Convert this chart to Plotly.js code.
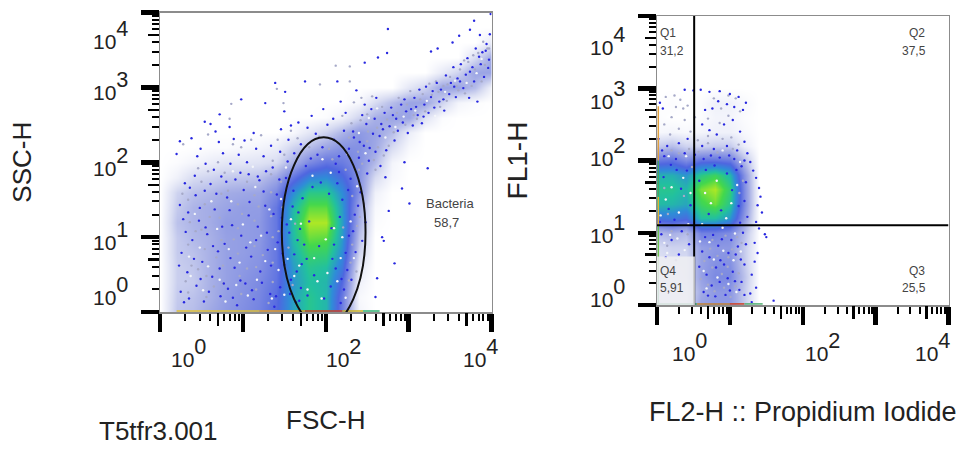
<!DOCTYPE html>
<html><head><meta charset="utf-8">
<script src="https://cdn.plot.ly/plotly-3.0.1.min.js"></script>
<style>html,body{margin:0;padding:0;background:#fff}</style></head>
<body><div id="chart" style="width:961px;height:450px"></div>
<script>
// All positions on the axes are log10 decades of the channel value.
const gridAxis = [0,.2,.4,.6,.8,1,1.2,1.4,1.6,1.8,2,2.2,2.4,2.6,2.8,3,3.2,3.4,3.6,3.8,4];
// Density estimate per grid cell (0 none .. 8 peak), rows y = 0 to 4, columns x = 0 to 4.
const leftDensity = [
[0,1.5,1.7,2.2,2.6,2.9,3.2,3.9,5.4,6.2,5.8,3.3,.3,0,0,0,0,0,0,0,0],
[0,1.4,1.6,2,2.5,2.8,3.1,3.8,5.4,6.2,5.8,3.4,.2,0,0,0,0,0,0,0,0],
[0,1.3,1.4,2,2.4,2.7,3,3.6,5.2,6,5.8,3.9,.4,0,0,0,0,0,0,0,0],
[0,1.3,1.5,2,2.4,2.6,2.8,3.5,5.3,6.2,6,4.5,.7,0,0,0,0,0,0,0,0],
[0,1.4,1.6,2,2.4,2.5,2.7,3.5,5.6,6.7,6.6,5,1.2,0,0,0,0,0,0,0,0],
[0,1.4,1.8,2,2.4,2.5,2.6,3.5,5.9,7.3,7.2,5.3,1.6,0,0,0,0,0,0,0,0],
[0,1.6,1.9,2.1,2.5,2.5,2.6,3.5,6,7.8,7.8,5.4,2,.1,0,0,0,0,0,0,0],
[0,1.4,1.9,2.1,2.3,2.5,2.5,3.5,5.8,7.2,7.2,5.3,2.2,.2,0,0,0,0,0,0,0],
[0,1.2,1.6,1.8,2.1,2.2,2.3,3,5,6.3,6.3,5,2.8,.4,0,0,0,0,0,0,0],
[0,.4,1,1.2,1.4,1.5,1.6,2.2,3.6,4.8,5,4.2,2.8,1,.2,0,0,0,0,0,0],
[0,.1,.3,.5,.7,.7,.8,1,2,3,3.6,3.4,2.8,1.8,.3,0,0,0,0,0,0],
[0,0,0,.1,.1,.2,.3,.5,1.2,1.7,2.3,2.8,2.8,2.2,1,.2,0,0,0,0,0],
[0,0,0,0,0,0,0,0,.2,.7,1.2,1.9,2.6,2.3,1.7,.5,0,0,0,0,0],
[0,0,0,0,0,0,0,0,0,0,.1,.4,1.2,2,2.3,2.3,.8,.1,0,0,0],
[0,0,0,0,0,0,0,0,0,0,0,0,.2,1,1.7,2.3,2.3,1.2,.3,.1,0],
[0,0,0,0,0,0,0,0,0,0,0,0,0,0,0,.7,1.2,2.3,2.3,1.7,.3],
[0,0,0,0,0,0,0,0,0,0,0,0,0,0,0,0,0,.6,1.2,2.3,2.3],
[0,0,0,0,0,0,0,0,0,0,0,0,0,0,0,0,0,0,0,1,2.2],
[0,0,0,0,0,0,0,0,0,0,0,0,0,0,0,0,0,0,0,0,.6],
[0,0,0,0,0,0,0,0,0,0,0,0,0,0,0,0,0,0,0,0,0],
[0,0,0,0,0,0,0,0,0,0,0,0,0,0,0,0,0,0,0,0,0]];
const rightDensity = [
[1,.8,.8,2.4,2.6,2.6,1.4,0,0],
[.8,.8,.8,2.1,2.6,2.6,1.4,0,0],
[.8,.8,1,2.4,3,3,1.6,0,0],
[.8,1,1,2.4,2.8,2.8,1.4,0,0],
[1,1.2,1.2,2.4,2.6,2.6,1.4,0,0],
[1.7,2,1.7,3.2,3.2,2.9,1.7,0,0],
[4.4,4.6,4.2,6,6,5.2,2.6,0,0],
[5.9,5.8,5.5,6.8,7.3,6.2,3,0,0],
[6.2,6.2,5.8,7.4,7.8,6.5,3,0,0],
[5.7,5.7,5.2,6.3,6.8,5.8,2.8,0,0],
[3.4,3.6,2.9,3.6,3.6,3.4,1.7,0,0],
[1.4,1.7,1.2,1.2,1.4,1.4,.5,0,0],
[.2,.3,.2,.3,.4,.4,.2,0,0],
[.1,0,0,.1,.3,.3,.1,0,0],
[0,.1,0,.1,.4,.4,.2,0,0],
[0,0,0,0,0,0,0,0,0]];
const rightGridX = [0,.2,.4,.6,.8,1,1.2,1.4,1.6];
const rightGridY = [0,.2,.4,.6,.8,1,1.2,1.4,1.6,1.8,2,2.2,2.4,2.6,2.8,3];
// Individual events read from the sparse and speckled parts of the plots.
const leftBlueDots = [[2.75,3.78],[2.74,3.46],[2.47,3.33],[2.63,3.4],[3.27,3.48],[3.35,3.52],[3.53,3.6],[3.61,3.69],[3.79,3.89],[3.74,3.77],[3.86,3.7],[3.99,3.98],[1.39,3.06],[1.51,2.94],[1.75,3.08],[2.14,3.08],[.98,2.84],[1.27,2.79],[1.5,2.68],[.72,2.64],[.54,2.54],[.61,2.51],[.84,2.47],[.67,2.41],[.24,2.28],[.38,2.32],[.2,2.11],[.45,2.08],[3.01,1.45],[2.83,.65],[2.92,1.65],[3.23,1.92],[2.95,2.0],[2.72,1.8],[2.76,1.35],[2.68,1.0],[2.7,.95],[2.62,.45],[2.6,.2],
[2.33,2.41],[2.37,2.96],[2.41,2.27],[2.44,2.63],[2.49,2.51],[2.53,2.19],[2.55,2.71],[2.59,2.58],[2.61,2.86],[2.65,2.35],[2.67,2.51],[2.71,2.66],[2.73,2.16],[2.77,2.48],[2.79,2.73],[2.83,2.29],[2.85,2.58],[2.87,2.42],[2.91,2.77],[2.93,2.53],[2.97,2.68],[2.99,2.39],[3.03,2.71],[3.05,2.49],[3.07,2.86],[3.11,2.63],[3.13,2.97],[3.16,2.52],[3.19,2.77],[3.21,3.01],[3.24,2.66],[3.27,2.87],[3.31,2.73],[3.34,3.06],[3.37,2.81],[3.39,2.97],[3.43,2.69],[3.45,3.16],[3.49,2.91],[3.51,3.06],[3.54,3.27],[3.57,2.87],[3.59,3.12],[3.63,3.31],[3.66,2.99],[3.69,3.17],[3.71,3.39],[3.73,2.86],[3.77,3.27],[3.79,3.08],[3.81,3.52],[3.83,2.81],[3.87,3.31],[3.89,3.47],[3.91,3.14],[3.94,3.58],[3.97,3.37],[3.98,3.71],[3.96,3.26],[3.42,2.84],[3.18,2.61],[3.09,2.74],[2.95,2.84],[2.81,2.63],[2.69,2.44],[2.57,2.38],[2.47,2.77],[3.62,3.08],[3.74,3.21],[3.85,3.41],[3.93,3.49],[3.55,3.01],[3.29,2.95],
[2.1,2.3],[2.16,2.08],[2.22,2.42],[2.28,2.18],[2.34,2.33],[2.4,2.06],[2.46,2.22],[2.52,2.02],[2.6,2.14],[2.66,1.95],[2.02,2.5],[1.96,2.2],[1.88,2.38],[1.78,2.46],[1.7,2.24],[1.62,2.12],[1.55,2.3],[1.45,2.14],[1.34,2.22],[1.25,2.08],[1.16,2.18],[1.05,2],[.95,2.1],[.85,1.98],[.76,2.12],[.65,1.9],[.55,1.98],[.42,1.82],[.3,1.72],[1.67,2.53],[1.83,2.62],[1.97,2.71],[2.09,2.58],[2.24,2.66],[2.18,2.81],[1.58,2.49],[1.46,2.44],[1.13,2.39],[1.02,2.29],[.89,2.31],[.71,2.27],[.49,2.18],
[.24,1.43],[.31,1.07],[.26,.79],[.33,.53],[.25,.27],[.29,.13],[.43,1.56],[.47,1.22],[.39,.96],[.51,.67],[.44,.35],[.53,.14],[.61,1.71],[.66,1.37],[.57,1.04],[.7,.81],[.63,.47],[.73,.21],[.81,1.53],[.87,1.16],[.78,.91],[.9,.59],[.82,.31],[.93,.09],[1.01,1.63],[1.07,1.29],[.98,1.02],[1.1,.74],[1.03,.38],[1.13,.17],[1.2,1.76],[1.27,1.42],[1.18,1.14],[1.3,.83],[1.21,.54],[1.33,.24],[1.38,.07],[1.41,1.57],[1.47,1.26],[1.42,.93],[1.5,.63],[1.45,.33],[1.52,1.79],[1.6,1.41],[1.56,1.06],[1.62,.77],[1.58,.43],[1.64,.13],[.23,.62],[.28,1.24],[.36,1.66],[.35,.18],[.41,.71],[.49,.44],[.48,1.39],[.55,1.13],[.59,.27],[.64,.88],[.68,1.58],[.72,.58],[.75,1.14],[.77,.38],[.84,1.36],[.85,.72],[.88,.19],[.91,1.77],[.97,.42],[1.04,.86],[1.08,1.47],[1.11,.29],[1.16,.96],[1.23,.39],[1.25,1.61],[1.29,1.06],[1.34,.62],[1.37,1.31],[1.4,.21],[1.44,1.77],[1.48,.78],[1.53,1.17],[1.57,.24],[1.61,1.62],[1.66,.96],[1.67,1.33],[1.65,.54],[1.07,1.84],[.8,1.74],[.54,1.62],[.34,1.33],[1.54,2.01],[1.36,1.93],[1.28,1.88],[1.18,1.81],[.97,1.86],[.74,1.81],
[2.2,1.5],[2.3,1.78],[2.35,1.3],[2.28,1.02],[2.36,.8],[2.26,.56],[2.22,.3],[2.18,.12],[2.42,1.6],[2.48,1.2],[2.44,.95],[2.5,1.85],[1.7,.32],[1.74,.9],[1.72,1.52],[1.76,1.95],[2.12,.58],[2.1,.9],[2.14,1.72],[2.12,1.98],[1.82,2.05],[1.9,2.1],[2.24,.79],[2.31,.43],[2.17,1.27],[2.27,1.63],[2.39,1.42],[2.33,1.08],[2.19,.44],[2.16,1.87],[1.69,1.11],[1.71,.64],[1.68,.15],[1.78,.22],[1.77,.71],[1.8,1.21],[2.06,.34],[2.08,.71],[2.04,1.58],[2.07,1.12],[1.86,.49],[1.92,.88],[1.98,.18],[1.84,1.67],[1.94,1.73]];
const leftGreyDots = [[2.12,3.29],[2.29,3.28],[2.29,3.08],[1.41,2.98],[1.93,3.04],[.86,2.78],[1.49,2.79],[.84,2.58],[.58,2.37],[.28,2.24],
[2.2,2.62],[2.34,2.8],[2.42,2.56],[2.5,2.64],[2.56,2.88],[2.62,2.46],[2.68,2.74],[2.76,2.22],[2.82,2.4],[2.88,2.86],[2.96,2.5],[3.02,2.95],[3.1,2.58],[3.14,2.84],[3.2,2.68],[3.28,2.9],[3.33,3.08],[3.38,2.74],[3.42,3.02],[3.46,2.82],[3.5,3.14],[3.58,3.02],[3.62,3.24],[3.68,2.92],[3.72,3.34],[3.76,3.02],[3.8,3.24],[3.84,3.46],[3.88,3.08],[3.92,3.3],[3.95,3.52],[2.39,2.14],[2.51,2.41],[2.63,2.2],[2.74,2.57],[2.86,2.66],[2.98,2.77],[3.06,2.63],[3.17,2.91],[3.25,3.05],[3.36,2.94],[3.47,3.04],[3.6,2.96],[3.67,3.36],[3.78,3.43],[3.9,3.61],[3.97,3.52],[2.58,2.03],[2.7,2.09],[2.31,2.52],[2.43,2.86],[2.28,2.33],
[1.1,2.3],[1.22,2.36],[1.36,2.02],[1.42,2.3],[1.5,2.1],[1.58,2.42],[1.66,2.32],[1.8,2.2],[1.92,2.34],[2.04,2.18],[2.08,2.04],[2.2,2.2],[2.3,2.04],[2.44,1.98],[2.5,2.28],[2.6,1.9],[.98,2.2],[.88,2.24],[.7,2],[.58,1.88],[.46,1.92],[.34,1.5],[.36,1.2],[.34,.9],[.38,.62],[.34,.26],[.54,1.44],[.5,1.1],[.54,.84],[.56,.48],[.56,.2],[.74,1.58],[.72,1.26],[.74,.96],[.76,.62],[.76,.38],[.94,1.44],[.94,1.12],[.94,.78],[.96,.48],[.98,.24],[1.14,1.56],[1.14,1.22],[1.14,.88],[1.16,.6],[1.16,.3],[1.34,1.6],[1.34,1.28],[1.36,1],[1.36,.66],[1.36,.4],[1.34,1.84],[1.46,1.74],[1.48,1.4],[2.32,1.55],[2.38,1.15],[2.32,.9],[2.3,.66],[2.28,.42],[2.4,1.9],[2.46,1.45],[2.24,1.9],[.27,1.58],[.31,.41],[.43,1.08],[.46,.57],[.6,1.27],[.65,.34],[.68,.73],[.82,1.62],[.89,.97],[.99,1.31],[1.05,.58],[1.19,1.41],[1.24,.76],[1.31,.12],[1.43,1.08],[1.55,.86],[1.63,1.18],[1.6,.36],[1.05,1.74],[.78,1.86],[.5,1.74],[2.37,.54],[2.41,1.27],[2.21,1.13]];
const gridWhiteDots = [[1.78,.3],[2.02,.52],[1.86,.72],[2.1,1.12],[1.7,1.18],[2.06,1.86],[1.84,1.82],[1.68,.62],[1.95,.18],[2.18,.72],[.35,.74],[.37,.48],[.42,1.31],[.48,.86],[.52,.29],[.58,.61],[.62,1.48],[.69,1.11],[.72,.43],[.79,.14],[.83,.84],[.86,1.48],[.92,.36],[.96,.66],[1,1.17],[1.06,.22],[1.09,.93],[1.15,1.67],[1.17,.43],[1.22,1.02],[1.27,.68],[1.32,1.37],[1.35,.18],[1.39,.84],[1.43,.56],[1.46,1.51],[1.5,.23],[1.54,.71],[1.58,1.24],[1.62,.48],[1.9,.41],[2,.97],[2.14,.41],[2.2,1],[2.24,.19],[2.3,1.21],[2.34,.72],[2.38,1.68],[2.4,2.39],[2.52,2.59],[2.62,2.72],[2.72,2.33],[2.84,2.47],[2.94,2.61],[3.08,2.69],[3.22,2.82],[3.32,2.62],[3.44,2.94],[3.56,3.09],[3.7,3.06],[3.82,3.19],[3.88,3.38],[1.96,2.04],[2.26,2.11],[2.48,2.12],[1.52,1.93],[1.12,1.94],[.88,1.88]];
const rightBlueDots = [[.38,2.98],[.5,2.97],[.6,2.98],[.72,2.95],[.86,2.96],[1,2.92],[1.12,2.88],[1.22,2.8],[.84,2.82],[.96,2.78],[1.06,2.74],[1.18,2.7],[.76,2.72],[.66,2.7],[.04,2.8],[.08,2.72],[.62,2.5],[.72,2.42],[.82,2.36],[.92,2.5],[1.04,2.56],[1.14,2.4],[1.2,2.26],[1.24,2.1],[1.28,1.98],[1.32,1.86],[1.36,1.76],[1.4,1.62],[1.42,1.5],[1.38,1.38],[1.44,1.28],[1.36,1.15],[1.4,1.06],[1.48,.98],[1.5,.94],[1.34,.86],[1.38,.72],[1.34,.6],[1.3,.42],[1.36,.24],[1.28,.16],[1.6,.06],[1.3,.04],[.02,2.3],[.14,2.2],[.3,2.24],[.42,2.3],[.62,2.2],[.78,2.16],[.96,2.2],[1.1,2.14],[1.2,2],[.1,2.06],[.26,2.02],[.38,2.1],[.64,2.02],[.86,2.04],[1.06,2.02],[1.16,1.92],[1.22,1.7],[1.2,1.44],[1.24,1.22],[1.18,1.0],[1.22,.84],[1.2,.56],[1.16,.32],[1.2,.14],[.66,.94],[.84,.82],[1.02,.9],[.72,.66],[.92,.56],[1.08,.7],[.68,.42],[.86,.32],[1.04,.46],[.64,.18],[.8,.12],[1,.2],[.06,.98],[.2,.9],[.34,1.02],[.12,.66],[.3,.7],[.44,.84],[1.11,.81],[.97,.37],[.75,.27],[.89,.91],[.62,.74],[1.13,.21],[.58,.53],[1.15,.63],[.81,.52],[.94,.14],[.7,.13],[1.07,.33],[.77,.97],[.98,.72],[.87,.62],[.16,1.33],[.33,1.61],[.09,1.77],[.46,1.38],[.24,1.18],[.71,1.26],[.96,1.82],[1.12,1.37],[.79,1.93],[.58,1.72],[.88,1.31],[1.03,1.59],[.67,1.87],[1.14,1.14],[.41,1.86],[.19,1.94],[.07,2.14],[.52,2.08],[.74,2.07],[.99,2.07],[1.09,1.87],[.04,1.15],[.27,1.87]];
const rightGreyDots = [[.12,2.88],[.24,2.9],[.32,2.84],[.26,2.74],[.36,2.72],[.42,2.76],[.52,2.6],[.46,2.4],[.56,2.28],[.7,2.34],[.86,2.52],[.98,2.62],[.78,2.86],[.88,2.72],[.98,2.9],[1.08,2.86],[1.14,2.68],[.7,2.58],[.18,2.36],[.3,2.44],[.2,2.14],[.44,2.16],[.7,2.24],[.9,2.3],[1.02,2.32],[1.12,2.22],[.14,.82],[.26,.62],[.42,.98],[.2,1.02],[.76,.9],[.94,.96],[1.1,.94],[.76,.52],[.98,.66],[1.12,.44],[.7,.28],[.92,.24],[1.08,.26],[.1,2.5],[.2,2.6],[.38,2.56],[.83,.68],[.65,.61],[1.03,.77],[.89,.43],[.73,.78],[.97,.53],[1.16,.86],[.6,.36],[.79,.19],[1.01,.11],[.15,1.26],[.37,1.51],[.1,1.62],[.48,1.91],[.83,2.11],[.3,2.1],[1.04,2.16],[.57,2.12],[1.18,1.72],[1.13,1.55]];
const rightWhiteDots = [[.72,.87],[.91,.75],[1.05,.62],[.64,.47],[.83,.38],[1.09,.18],[.98,.29],[.78,.63],[.59,.88],[1.15,.74],[.68,.23],[.9,1.07],[1.07,.99],[.14,.72],[.28,.92],[.1,.86],[.38,.76],[.18,.97],[.05,1.24],[.3,1.28],[.43,1.12],[.2,1.63],[.36,1.76],[.12,1.46],[.46,1.55],[.74,1.41],[.95,1.2],[1.1,1.66],[.82,1.72],[.66,1.55],[1.02,1.41],[.62,1.12],[.4,2.06],[.9,2.14],[.16,2.06],[1.14,1.98]];
// Events piled on the axes.
const pileSegments = [[.2,1.2,'#e0c030'],[1.2,1.75,'#e8a020'],[1.75,2.2,'#d04020'],[2.2,2.45,'#c8b020'],[2.45,2.65,'#30b070']];
const rightPileEdge = [[0,.35,'#40a060'],[.35,1.1,'#70c050'],[1.1,1.5,'#e0b030'],[1.5,2.0,'#50a060'],[2.0,2.75,'#e0a040']];
const rightPileBase = [[0,.55,'#40a060'],[.55,1.0,'#c08030'],[1.0,1.2,'#d04020'],[1.2,1.45,'#50b070']];
// Gates.
const bacteriaGate = {x0:1.47, x1:2.48, y0:-.2, y1:2.333};
const quadGate = {x:.51, y:1.105};
// Ticks.
const decades = [0,1,2,3,4];
const minorFactors = [2,3,4,6,7,8,9];
const minorTicks = [0,1,2,3].flatMap(d=>minorFactors.map(m=>d+Math.log10(m)));
const midTicks = [0,1,2,3].map(d=>d+Math.log10(5));
const xTickLabelsLeft = [[0,188.5],[2,343],[4,481]];
const yTickLabelsLeft = [[4,34],[3,85],[2,161],[1,235],[0,290]];
const xTickLabelsRight = [[0,689],[2,822],[4,932]];
const yTickLabelsRight = [[4,40],[3,94],[2,152],[1,228],[0,292]];

const W=961,H=450, px=x=>x/W, py=y=>1-y/H;
const flow=[[0,'#ffffff'],[.125,'#d8dcf2'],[.25,'#a8b0e6'],[.375,'#7c8ae2'],[.5,'#4f66e0'],[.625,'#2f8cd8'],[.75,'#22c0a0'],[.875,'#44d84c'],[1,'#c8ec1c']];
const axisBase={range:[0,4],showgrid:false,zeroline:false,showline:true,linecolor:'#8c8c8c',linewidth:1.5,mirror:true,ticks:'outside',tickcolor:'#000',showticklabels:false,fixedrange:true};
const titleFont={family:'Liberation Sans',size:26,color:'#222'};
function axis(domain,len,title,standoff,size){return Object.assign({},axisBase,{domain,tickmode:'array',tickvals:decades,ticklen:len,tickwidth:4.5,
  minor:{tickmode:'array',tickvals:minorTicks,ticks:'outside',ticklen:7,tickwidth:2,tickcolor:'#000',showgrid:false},
  title:{text:title,standoff,font:{...titleFont,size:size||26}}});}
function mid(domain,over,anchor,len){return Object.assign({},axisBase,{domain,overlaying:over,anchor,showline:false,mirror:false,tickmode:'array',tickvals:midTicks,ticklen:len,tickwidth:2.5});}
const dx1=[px(160),px(491.5)],dy1=[py(312),py(12.5)],dx2=[px(657),px(948.5)],dy2=[py(305),py(16)];
const dots=(pts,color,xa,ya,size=2.4)=>({type:'scatter',mode:'markers',x:pts.map(p=>p[0]),y:pts.map(p=>p[1]),xaxis:xa,yaxis:ya,marker:{size,color,line:{width:0}},hoverinfo:'skip',showlegend:false});
const segs=(list,fixed,vert,xa,ya)=>list.map(s=>({type:'scatter',mode:'lines',x:vert?[fixed,fixed]:[s[0],s[1]],y:vert?[s[0],s[1]]:[fixed,fixed],xaxis:xa,yaxis:ya,line:{color:s[2],width:1.5},cliponaxis:false,hoverinfo:'skip',showlegend:false}));
const heat=(x,y,z,xa,ya)=>({type:'heatmap',x,y,z,xaxis:xa,yaxis:ya,zmin:0,zmax:8,zsmooth:'best',colorscale:flow,showscale:false,hoverinfo:'skip'});
const data=[
 heat(gridAxis,gridAxis,leftDensity,'x','y'),
 dots(leftGreyDots,'#a6a9c8','x','y'),dots(leftBlueDots,'#2828e0','x','y'),dots(gridWhiteDots,'#f4f6fa','x','y'),
 ...segs(pileSegments,.015,false,'x','y'),
 heat(rightGridX,rightGridY,rightDensity,'x2','y2'),
 dots(rightGreyDots,'#a6a9c8','x2','y2'),dots(rightBlueDots,'#2828e0','x2','y2'),dots(rightWhiteDots,'#f4f6fa','x2','y2'),
 ...segs(rightPileEdge,.018,true,'x2','y2'),...segs(rightPileBase,.015,false,'x2','y2'),
 {type:'scatter',mode:'markers',x:[0],y:[0],xaxis:'x3',yaxis:'y3',marker:{opacity:0},hoverinfo:'skip',showlegend:false},
 {type:'scatter',mode:'markers',x:[0],y:[0],xaxis:'x4',yaxis:'y4',marker:{opacity:0},hoverinfo:'skip',showlegend:false}
];
const tickFont={family:'Liberation Sans',size:31,color:'#222'};
const tickText=e=>'<span style="font-size:21px">10</span><sup>'+e+'</sup>';
const anno=(t,x,y,font,extra)=>Object.assign({text:t,xref:'paper',yref:'paper',x:px(x),y:py(y),showarrow:false,font,xanchor:'center',yanchor:'middle'},extra||{});
const small={family:'Liberation Sans',size:12,color:'#444'};
const annotations=[
 ...xTickLabelsLeft.map(l=>anno(tickText(l[0]),l[1],352,tickFont)),
 ...yTickLabelsLeft.map(l=>anno(tickText(l[0]),130,l[1],tickFont,{xanchor:'right'})),
 ...xTickLabelsRight.map(l=>anno(tickText(l[0]),l[1],346,tickFont)),
 ...yTickLabelsRight.map(l=>anno(tickText(l[0]),627,l[1],tickFont,{xanchor:'right'})),
 anno('T5tfr3.001',158,431,titleFont),
 anno('Bacteria',450,203,{...small,size:13}),anno('58,7',446,222,{...small,size:13}),
 anno('Q1',668,33,small),anno('31,2',672,51,small),
 anno('Q2',917,33,small),anno('37,5',914,51,small),
 anno('Q3',917,271,small),anno('25,5',914,288,small),
 anno('Q4',668,271,small),anno('5,91',672,288,small)
];
const layout={width:W,height:H,margin:{l:0,r:0,t:0,b:0},paper_bgcolor:'#fff',plot_bgcolor:'#fff',showlegend:false,
 xaxis:axis(dx1,18,'FSC-H',80),yaxis:axis(dy1,18,'\u00A0\u00A0\u00A0\u00A0SSC-H',101),
 xaxis2:Object.assign(axis(dx2,18,'FL2-H :: Propidium Iodide',78,27),{anchor:'y2'}),yaxis2:Object.assign(axis(dy2,18,'\u00A0\u00A0\u00A0FL1-H',101,28),{anchor:'x2'}),
 xaxis3:mid(dx1,'x','y',13),yaxis3:mid(dy1,'y','x',11),
 xaxis4:mid(dx2,'x2','y2',13),yaxis4:mid(dy2,'y2','x2',11),
 shapes:[
  {type:'circle',xref:'x',yref:'y',x0:bacteriaGate.x0,x1:bacteriaGate.x1,y0:bacteriaGate.y0,y1:bacteriaGate.y1,line:{color:'#111',width:2}},
  {type:'line',xref:'x2',yref:'y2',x0:quadGate.x,x1:quadGate.x,y0:0,y1:4,line:{color:'#000',width:2}},
  {type:'line',xref:'x2',yref:'y2',x0:0,x1:4,y0:quadGate.y,y1:quadGate.y,line:{color:'#000',width:2}},
  {type:'rect',xref:'x2',yref:'y2',x0:0,x1:.52,y0:0,y1:.67,fillcolor:'rgba(238,238,242,.85)',line:{width:0},layer:'above'}
 ],annotations};
Plotly.newPlot('chart',data,layout,{displayModeBar:false,staticPlot:true});
</script></body></html>
